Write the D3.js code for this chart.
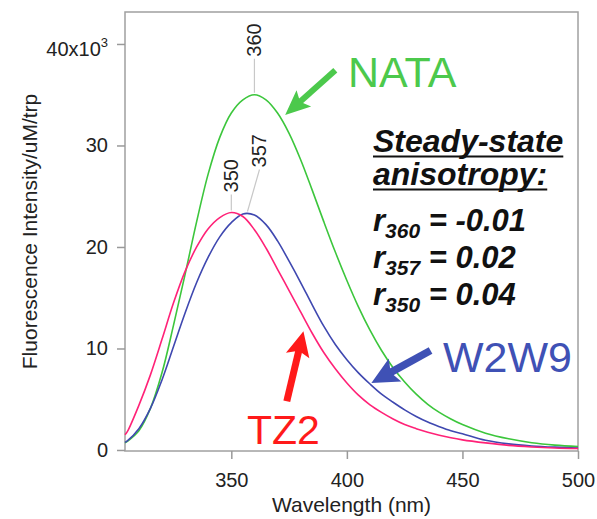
<!DOCTYPE html>
<html>
<head>
<meta charset="utf-8">
<script src="https://cdn.jsdelivr.net/npm/d3@7"></script>
<style>
  html, body { margin: 0; padding: 0; background: #fff; }
  svg { display: block; font-family: "Liberation Sans", Arial, sans-serif; }
</style>
</head>
<body>
<div id="chart"></div>
<script>
// wavelength grid (nm) and emission spectra (x10^3 per uM trp)
const wavelengths = [304, 305, 310, 315, 320, 325, 330, 335, 340, 345, 350, 355, 360, 365, 370, 375, 380, 385, 390, 395,
  400, 405, 410, 415, 420, 425, 430, 435, 440, 445, 450, 460, 470, 480, 490, 500];
const nata = [0.7, 0.85, 1.9, 4.1, 7.6, 12.3, 17.3, 22.5, 27.2, 30.8, 33.2, 34.5, 35.0, 34.5, 33.2, 31.2, 28.6, 25.6, 22.5, 19.5,
  16.7, 14.1, 11.8, 9.8, 8.1, 6.7, 5.5, 4.5, 3.7, 3.05, 2.5, 1.65, 1.1, 0.72, 0.48, 0.33];
const w2w9 = [0.75, 0.9, 2.1, 4.1, 6.9, 10.2, 13.5, 16.5, 19.0, 21.0, 22.4, 23.25, 23.15, 22.2, 20.6, 18.6, 16.5, 14.3, 12.2, 10.4,
  8.9, 7.6, 6.5, 5.5, 4.7, 3.95, 3.3, 2.75, 2.3, 1.9, 1.6, 0.95, 0.6, 0.4, 0.28, 0.2];
const tz2 = [1.5, 1.8, 4.4, 7.4, 10.9, 14.5, 17.6, 20.0, 21.8, 22.9, 23.4, 23.0, 21.7, 19.9, 17.8, 15.7, 13.6, 11.5, 9.6, 8.0,
  6.6, 5.4, 4.45, 3.7, 3.05, 2.5, 2.1, 1.75, 1.45, 1.2, 1.0, 0.7, 0.45, 0.3, 0.2, 0.15];

const seriesNames = ["NATA", "W2W9", "TZ2"];
const peakNm = [360, 357, 350];
const peakValue = [35.0, 23.3, 23.4];
const anisotropyLabels = ["360", "357", "350"];
const anisotropyValues = ["-0.01", "0.02", "0.04"];

const xTicks = [350, 400, 450, 500];
const yTicks = [0, 10, 20, 30, 40];

const width = 597, height = 519;
const colors = { NATA: "#3cc63c", W2W9: "#3f48b0", TZ2: "#ff2277" };
const arrowColors = { NATA: "#4cc94c", W2W9: "#3f51b5", TZ2: "#ff1a1a" };

const svg = d3.select("#chart").append("svg")
    .attr("width", width)
    .attr("height", height);

const x = d3.scaleLinear().domain([304, 500]).range([125, 578]);
const y = d3.scaleLinear().domain([-0.1, 43.15]).range([451, 12]);

// frame
svg.append("rect")
    .attr("x", x.range()[0]).attr("y", y.range()[1])
    .attr("width", x.range()[1] - x.range()[0])
    .attr("height", y.range()[0] - y.range()[1])
    .attr("fill", "none")
    .attr("stroke", "#a0a0a0")
    .attr("stroke-width", 1.5);

// axes
const yAxis = svg.append("g")
    .attr("transform", `translate(${x.range()[0]},0)`)
    .call(d3.axisLeft(y).tickValues(yTicks).tickSize(8).tickPadding(9).tickFormat(d => d === 40 ? "40x10" : d));
const xAxis = svg.append("g")
    .attr("transform", `translate(0,${y.range()[0]})`)
    .call(d3.axisBottom(x).tickValues(xTicks).tickSize(8).tickPadding(14));

[yAxis, xAxis].forEach(g => {
    g.select(".domain").remove();
    g.selectAll(".tick line").attr("stroke", "#999").attr("stroke-width", 1.5);
    g.selectAll(".tick text")
        .attr("fill", "#222")
        .style("font-size", "20px")
        .style("font-family", "'Liberation Sans', Arial, sans-serif");
});

// superscript on the top label
yAxis.selectAll(".tick text").filter(d => d === 40)
    .attr("dy", "0.6em")
    .append("tspan")
    .attr("dy", "-0.75em")
    .style("font-size", "13px")
    .text("3");

svg.append("text")
    .attr("x", (x.range()[0] + x.range()[1]) / 2)
    .attr("y", 512)
    .attr("text-anchor", "middle")
    .attr("fill", "#222")
    .style("font-size", "21px")
    .text("Wavelength (nm)");

svg.append("text")
    .attr("transform", `translate(37,${(y.range()[0] + y.range()[1]) / 2}) rotate(-90)`)
    .attr("text-anchor", "middle")
    .attr("fill", "#222")
    .style("font-size", "21px")
    .text("Fluorescence Intensity/uM/trp");

// spectra
const line = d3.line()
    .x(d => x(d[0]))
    .y(d => y(d[1]))
    .curve(d3.curveCatmullRom.alpha(0.5));

const spectra = [nata, w2w9, tz2];
svg.append("g")
    .attr("fill", "none")
    .attr("stroke-width", 1.6)
    .selectAll("path")
    .data(spectra)
    .join("path")
    .attr("stroke", (d, i) => colors[seriesNames[i]])
    .attr("d", d => line(wavelengths.map((w, i) => [w, d[i]])));

// peak labels with leader lines
const peakLabelLift = [36, 44, 18];   // gap (px) between peak and label bottom
const peakLabelShift = [0, 12, 0];    // horizontal shift (px) of label
const peaks = svg.append("g");
peakNm.forEach((nm, i) => {
    const px = x(nm), py = y(peakValue[i]);
    const lx = px + peakLabelShift[i], ly = py - peakLabelLift[i];
    peaks.append("line")
        .attr("x1", px).attr("y1", py - 2)
        .attr("x2", lx).attr("y2", ly)
        .attr("stroke", "#c8c8c8")
        .attr("stroke-width", 1.2);
    peaks.append("text")
        .attr("transform", `translate(${lx},${ly - 2}) rotate(-90)`)
        .attr("dy", "0.35em")
        .attr("fill", "#222")
        .style("font-size", "20px")
        .text(nm);
});

// arrows
function arrow(x1, y1, x2, y2, color, w, headLen, headHalf) {
    const a = Math.atan2(y2 - y1, x2 - x1);
    const bx = x2 - headLen * Math.cos(a), by = y2 - headLen * Math.sin(a);
    svg.append("line")
        .attr("x1", x1).attr("y1", y1)
        .attr("x2", bx + 2 * Math.cos(a)).attr("y2", by + 2 * Math.sin(a))
        .attr("stroke", color)
        .attr("stroke-width", w);
    const nx = -Math.sin(a), ny = Math.cos(a);
    const back = 5;
    svg.append("path")
        .attr("d", `M${x2},${y2}L${bx + nx * headHalf - back * Math.cos(a)},${by + ny * headHalf - back * Math.sin(a)}` +
            `L${bx},${by}L${bx - nx * headHalf - back * Math.cos(a)},${by - ny * headHalf - back * Math.sin(a)}Z`)
        .attr("fill", color);
}

arrow(x(395), y(37.4), x(373.3), y(33.0), arrowColors.NATA, 6, 20, 11);
arrow(x(436.2), y(9.8), x(410.6), y(6.6), arrowColors.W2W9, 7.5, 22, 13);
arrow(x(374.0), y(4.8), x(381.2), y(11.7), arrowColors.TZ2, 7, 20, 12);

// series names
const namePos = [
    { name: "NATA", nm: 400.5, v: 35.8 },
    { name: "W2W9", nm: 441.6, v: 7.7 },
    { name: "TZ2", nm: 356.8, v: 0.55 }
];
namePos.forEach(s => {
    svg.append("text")
        .attr("x", x(s.nm)).attr("y", y(s.v))
        .attr("fill", s.name === "TZ2" ? "#ff1a1a" : arrowColors[s.name])
        .style("font-size", s.name === "TZ2" ? "41px" : "43px")
        .text(s.name);
});

// anisotropy block
const bx = x(411.3);
const block = svg.append("g")
    .attr("fill", "#111")
    .style("font-weight", "bold")
    .style("font-style", "italic");
[["Steady-state", 152], ["anisotropy:", 185]].forEach(([t, by]) => {
    const tx = block.append("text").attr("x", bx).attr("y", by)
        .style("font-size", "32px").text(t);
    const len = tx.node().getComputedTextLength();
    block.append("rect")
        .attr("x", bx).attr("y", by + 3.5)
        .attr("width", len).attr("height", 2);
});
anisotropyLabels.forEach((sub, i) => {
    const t = block.append("text").attr("x", bx).attr("y", 231 + i * 37)
        .style("font-size", "31px");
    t.append("tspan").text("r");
    t.append("tspan").attr("dy", 7).style("font-size", "21px").text(sub);
    t.append("tspan").attr("dy", -7).text(" = " + anisotropyValues[i]);
});
</script>
</body>
</html>
